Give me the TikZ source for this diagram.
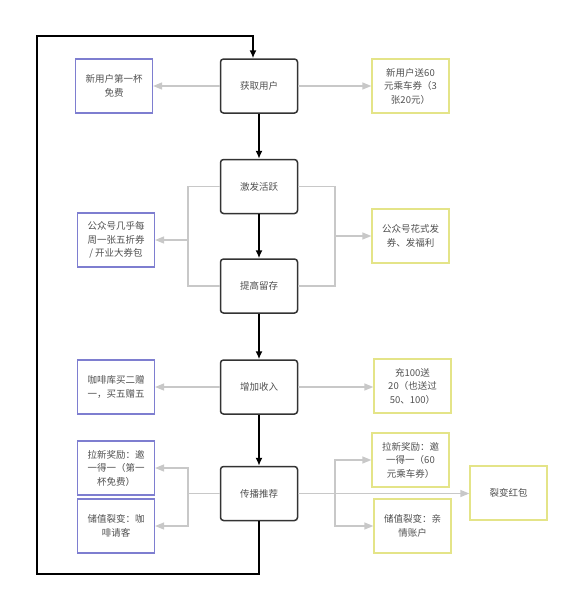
\documentclass[tikz,border=0pt]{standalone}
\usepackage{fontspec}
\usepackage{xcolor}
\usetikzlibrary{arrows.meta}
\newfontfamily\cjk{Noto Sans CJK SC}
\definecolor{stepline}{HTML}{333333}
\definecolor{blueline}{HTML}{7E7ED0}
\definecolor{yellowline}{HTML}{E4E488}
\definecolor{greyline}{HTML}{C8C8C8}
\definecolor{textgrey}{HTML}{505050}

\begin{document}
\begin{tikzpicture}[x=1pt,y=-1pt,
    every node/.style={font=\cjk\fontsize{9.5}{13.5}\selectfont,text=textgrey,align=center,
      minimum width=77pt,minimum height=54pt,inner sep=1pt},
    stage/.style={draw=stepline,line width=1.5pt,rounded corners=3pt},
    leftbox/.style={draw=blueline,line width=1.2pt},
    rightbox/.style={draw=yellowline,line width=1.3pt},
    flow/.style={draw=black,line width=1.5pt,-{Latex[length=8pt,width=7pt]}},
    side/.style={draw=greyline,line width=1.3pt},
    sidearrow/.style={side,-{Triangle[length=9pt,width=7pt]}}]
  \useasboundingbox (0,0) rectangle (571,600);
  \node (get) [stage] at (259,86) {获取用户};
  \node (act) [stage] at (259,186.5) {激发活跃};
  \node (ret) [stage] at (259,286) {提高留存};
  \node (inc) [stage] at (259,387) {增加收入};
  \node (spr) [stage] at (259,493.5) {传播推荐};

  \node (newfree) [leftbox] at (114,86) {新用户第一杯\\免费};
  \node (weekly) [leftbox] at (116,240) {公众号几乎每\\周一张五折券\\/ 开业大券包};
  \node (coffee) [leftbox] at (116,387) {咖啡库买二赠\\一，买五赠五};
  \node (invfree) [leftbox] at (116,468) {拉新奖励：邀\\一得一（第一\\杯免费）};
  \node (storecoffee) [leftbox] at (116,526) {储值裂变：咖\\啡请客};

  \node (ticket) [rightbox] at (410.5,86) {新用户送60\\元乘车券（3\\张20元）};
  \node (fancy) [rightbox] at (410.5,236) {公众号花式发\\券、发福利};
  \node (recharge) [rightbox] at (412.5,386) {充100送\\20（也送过\\50、100）};
  \node (invticket) [rightbox] at (410.5,460) {拉新奖励：邀\\一得一（60\\元乘车券）};
  \node (family) [rightbox] at (412.5,526) {储值裂变：亲\\情账户};
  \node (redpack) [rightbox] at (508.5,493) {裂变红包};

  \draw[flow] (get) -- (act);
  \draw[flow] (act) -- (ret);
  \draw[flow] (ret) -- (inc);
  \draw[flow] (inc) -- (spr);
  \draw[flow] (spr.south) |- (37,574) -- (37,36) -| ([xshift=-6pt]get.north);

  \draw[sidearrow] (get) -- (newfree);
  \draw[sidearrow] (get) -- (ticket);

  \coordinate (lbr) at (188,240);
  \coordinate (rbr) at (335,236);
  \draw[side] (act.west) -- (act.west -| lbr) |- (ret.west);
  \draw[side] (act.east) -- (act.east -| rbr) |- (ret.east);
  \draw[sidearrow] (lbr) -- (weekly);
  \draw[sidearrow] (rbr) -- (fancy);

  \draw[sidearrow] (inc) -- (coffee);
  \draw[sidearrow] (inc) -- (inc -| recharge.west);

  \coordinate (lsp) at (188,493.5);
  \coordinate (rsp) at (335,493.5);
  \draw[side] (spr.west) -- (lsp);
  \draw[sidearrow] (lsp) |- (invfree);
  \draw[sidearrow] (lsp) |- (storecoffee.east);
  \draw[sidearrow] (spr) -- (spr -| redpack.west);
  \draw[sidearrow] (rsp) |- (invticket);
  \draw[sidearrow] (rsp) |- (family);
\end{tikzpicture}
\end{document}
